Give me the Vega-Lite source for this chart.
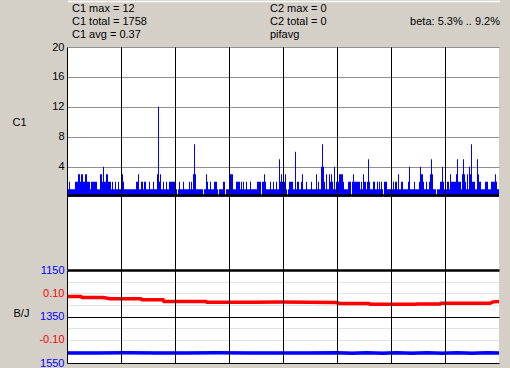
{
  "$schema": "https://vega.github.io/schema/vega-lite/v6.json",
  "background": "#d4d0c8",
  "padding": {"left": 12, "top": 0, "right": 10, "bottom": 1},
  "bounds": "flush",
  "spacing": 0,
  "config": {
    "view": {"stroke": null, "fill": "white"},
    "font": "Liberation Sans",
    "axis": {"labelFont": "Liberation Sans", "labelFontSize": 11, "labelColor": "black", "titleFont": "Liberation Sans", "titleFontSize": 11, "titleFontWeight": "normal", "titleColor": "black", "ticks": false, "domain": false, "labelPadding": 3, "gridOpacity": 1}
  },
  "datasets": {
    "header": [
      {"t": "C1 max = 12", "col": "left", "line": 1, "i": 5},
      {"t": "C1 total = 1758", "col": "left", "line": 2, "i": 5},
      {"t": "C1 avg = 0.37", "col": "left", "line": 3, "i": 5},
      {"t": "C2 max = 0", "col": "mid", "line": 1, "i": 203},
      {"t": "C2 total = 0", "col": "mid", "line": 2, "i": 203},
      {"t": "pifavg", "col": "mid", "line": 3, "i": 203},
      {"t": "beta: 5.3% .. 9.2%", "col": "right", "line": 2, "i": 433}
    ],
    "c1": [
      {"i":0,"c":1},{"i":2,"c":2},{"i":3,"c":1},{"i":8,"c":2},{"i":11,"c":3},{"i":13,"c":2},{"i":14,"c":3},{"i":16,"c":2},{"i":18,"c":3},{"i":20,"c":2},
      {"i":23,"c":1},{"i":24,"c":2},{"i":30,"c":1},{"i":33,"c":3},{"i":35,"c":2},{"i":36,"c":4},{"i":37,"c":2},{"i":39,"c":3},{"i":41,"c":2},{"i":44,"c":1},
      {"i":45,"c":2},{"i":46,"c":1},{"i":48,"c":2},{"i":49,"c":1},{"i":51,"c":2},{"i":52,"c":1},{"i":55,"c":3},{"i":56,"c":2},{"i":57,"c":1},{"i":69,"c":2},
      {"i":71,"c":3},{"i":72,"c":1},{"i":74,"c":2},{"i":76,"c":1},{"i":77,"c":2},{"i":79,"c":1},{"i":82,"c":2},{"i":83,"c":1},{"i":86,"c":2},{"i":87,"c":1},
      {"i":90,"c":3},{"i":91,"c":12},{"i":92,"c":2},{"i":93,"c":3},{"i":94,"c":1},{"i":96,"c":2},{"i":97,"c":1},{"i":99,"c":2},{"i":100,"c":1},{"i":102,"c":2},
      {"i":109,"c":1},{"i":110,"c":0},{"i":111,"c":1},{"i":112,"c":2},{"i":113,"c":1},{"i":116,"c":2},{"i":117,"c":1},{"i":122,"c":2},{"i":123,"c":1},{"i":124,"c":2},
      {"i":125,"c":1},{"i":126,"c":3},{"i":127,"c":7},{"i":128,"c":3},{"i":129,"c":1},{"i":136,"c":0},{"i":137,"c":1},{"i":139,"c":3},{"i":140,"c":2},{"i":141,"c":1},
      {"i":143,"c":2},{"i":144,"c":1},{"i":147,"c":2},{"i":150,"c":1},{"i":151,"c":0},{"i":152,"c":1},{"i":156,"c":2},{"i":158,"c":0},{"i":159,"c":1},{"i":163,"c":3},
      {"i":166,"c":1},{"i":169,"c":2},{"i":173,"c":1},{"i":174,"c":2},{"i":175,"c":1},{"i":176,"c":2},{"i":177,"c":1},{"i":179,"c":2},{"i":180,"c":1},{"i":183,"c":2},
      {"i":184,"c":1},{"i":190,"c":2},{"i":194,"c":0},{"i":195,"c":2},{"i":197,"c":3},{"i":198,"c":2},{"i":199,"c":1},{"i":203,"c":2},{"i":204,"c":1},{"i":206,"c":2},
      {"i":207,"c":1},{"i":209,"c":2},{"i":210,"c":1},{"i":212,"c":5},{"i":213,"c":2},{"i":214,"c":3},{"i":215,"c":2},{"i":218,"c":3},{"i":219,"c":1},{"i":220,"c":0},
      {"i":221,"c":1},{"i":222,"c":2},{"i":226,"c":1},{"i":228,"c":6},{"i":229,"c":1},{"i":230,"c":2},{"i":232,"c":1},{"i":234,"c":2},{"i":235,"c":3},{"i":236,"c":1},
      {"i":239,"c":2},{"i":240,"c":1},{"i":244,"c":2},{"i":245,"c":1},{"i":249,"c":3},{"i":250,"c":1},{"i":251,"c":2},{"i":252,"c":1},{"i":254,"c":4},{"i":255,"c":7},
      {"i":256,"c":4},{"i":257,"c":2},{"i":258,"c":1},{"i":259,"c":3},{"i":260,"c":1},{"i":262,"c":3},{"i":263,"c":2},{"i":264,"c":3},{"i":265,"c":2},{"i":266,"c":1},
      {"i":267,"c":4},{"i":268,"c":1},{"i":269,"c":2},{"i":272,"c":3},{"i":276,"c":2},{"i":277,"c":1},{"i":281,"c":2},{"i":284,"c":0},{"i":285,"c":2},{"i":286,"c":3},
      {"i":287,"c":2},{"i":293,"c":1},{"i":294,"c":2},{"i":295,"c":1},{"i":296,"c":3},{"i":297,"c":2},{"i":299,"c":1},{"i":300,"c":2},{"i":301,"c":5},{"i":302,"c":2},
      {"i":303,"c":1},{"i":306,"c":2},{"i":308,"c":1},{"i":310,"c":2},{"i":311,"c":1},{"i":312,"c":2},{"i":313,"c":1},{"i":314,"c":2},{"i":315,"c":1},{"i":316,"c":0},
      {"i":317,"c":2},{"i":320,"c":1},{"i":326,"c":2},{"i":327,"c":1},{"i":328,"c":2},{"i":330,"c":1},{"i":331,"c":3},{"i":332,"c":1},{"i":334,"c":2},{"i":336,"c":1},
      {"i":341,"c":2},{"i":342,"c":4},{"i":343,"c":1},{"i":347,"c":2},{"i":348,"c":1},{"i":352,"c":2},{"i":353,"c":4},{"i":354,"c":3},{"i":356,"c":2},{"i":357,"c":1},
      {"i":359,"c":2},{"i":360,"c":1},{"i":362,"c":2},{"i":363,"c":3},{"i":364,"c":5},{"i":365,"c":3},{"i":366,"c":1},{"i":369,"c":0},{"i":370,"c":1},{"i":373,"c":2},
      {"i":375,"c":4},{"i":376,"c":2},{"i":377,"c":1},{"i":380,"c":2},{"i":382,"c":1},{"i":383,"c":3},{"i":384,"c":2},{"i":389,"c":3},{"i":390,"c":5},{"i":391,"c":2},
      {"i":394,"c":1},{"i":395,"c":3},{"i":396,"c":5},{"i":397,"c":3},{"i":398,"c":2},{"i":399,"c":1},{"i":400,"c":3},{"i":401,"c":1},{"i":402,"c":4},{"i":403,"c":3},
      {"i":404,"c":7},{"i":405,"c":2},{"i":408,"c":1},{"i":410,"c":5},{"i":411,"c":3},{"i":412,"c":2},{"i":414,"c":1},{"i":418,"c":2},{"i":421,"c":1},{"i":424,"c":2},
      {"i":428,"c":3},{"i":429,"c":2},{"i":430,"c":1},{"i":432,"c":1}
    ],
    "blue": [
      {"i":0,"v":1507},{"i":30,"v":1507},{"i":60,"v":1506},{"i":90,"v":1507},{"i":120,"v":1507},{"i":150,"v":1506},{"i":180,"v":1507},{"i":210,"v":1507},{"i":240,"v":1507},{"i":270,"v":1506},
      {"i":285,"v":1508},{"i":300,"v":1506},{"i":315,"v":1508},{"i":330,"v":1506},{"i":345,"v":1508},{"i":360,"v":1506},{"i":375,"v":1508},{"i":390,"v":1506},{"i":405,"v":1508},{"i":420,"v":1506},{"i":432,"v":1507}
    ],
    "red": [
      {"i":0,"r":0.086},{"i":14,"r":0.086},{"i":15,"r":0.082},{"i":36,"r":0.082},{"i":43,"r":0.076},{"i":74,"r":0.076},{"i":75,"r":0.072},{"i":96,"r":0.072},{"i":97,"r":0.065},{"i":139,"r":0.065},
      {"i":140,"r":0.061},{"i":186,"r":0.061},{"i":213,"r":0.062},{"i":269,"r":0.060},{"i":273,"r":0.056},{"i":302,"r":0.056},{"i":303,"r":0.053},{"i":349,"r":0.053},{"i":350,"r":0.054},{"i":373,"r":0.054},
      {"i":374,"r":0.057},{"i":423,"r":0.057},{"i":426,"r":0.063},{"i":432,"r":0.065}
    ]
  },
  "vconcat": [
    {
      "width": 432,
      "height": 46,
      "view": {"fill": null, "stroke": null},
      "layer": [
        {
          "data": {"name": "header"},
          "transform": [{"filter": "datum.col !== 'right'"}],
          "mark": {"type": "text", "align": "left", "baseline": "middle", "fontSize": 11, "font": "Liberation Sans", "color": "black"},
          "encoding": {
            "x": {"field": "i", "type": "quantitative", "scale": {"domain": [0, 432], "nice": false, "zero": false}, "axis": null},
            "y": {"field": "line", "type": "quantitative", "scale": {"domain": [3.923, 0.3846], "nice": false, "zero": false}, "axis": null},
            "text": {"field": "t"}
          }
        },
        {
          "data": {"name": "header"},
          "transform": [{"filter": "datum.col === 'right'"}],
          "mark": {"type": "text", "align": "right", "baseline": "middle", "fontSize": 11, "font": "Liberation Sans", "color": "black"},
          "encoding": {
            "x": {"field": "i", "type": "quantitative"},
            "y": {"field": "line", "type": "quantitative"},
            "text": {"field": "t"}
          }
        },
        {
          "data": {"values": [{}]},
          "mark": {"type": "rule", "color": "white", "strokeWidth": 1.5},
          "encoding": {
            "x": {"datum": 1, "type": "quantitative"},
            "x2": {"datum": 433},
            "y": {"datum": 0.42, "type": "quantitative"}
          }
        }
      ]
    },
    {
      "width": 432,
      "height": 223,
      "layer": [
        {
          "data": {"name": "c1"},
          "mark": {"type": "area", "interpolate": "step-after", "color": "#0000ff"},
          "encoding": {
            "x": {"field": "i", "type": "quantitative", "scale": {"domain": [0, 432], "nice": false, "zero": false},
                  "axis": {"values": [0, 54, 108, 162, 216, 270, 324, 378], "labels": false, "grid": true, "gridColor": "black", "gridWidth": 1, "zindex": 1, "title": null}},
            "y": {"field": "c", "type": "quantitative", "scale": {"domain": [-9.8, 20], "nice": false, "zero": false},
                  "axis": {"values": [4, 8, 12, 16, 20], "gridColor": "#909090", "title": "C1", "titleAngle": 0, "titleX": -55, "titleY": 75, "titleAlign": "left", "titleBaseline": "middle"}},
            "y2": {"datum": 0}
          }
        },
        {
          "data": {"values": [{}]},
          "mark": {"type": "rule", "color": "black", "strokeWidth": 2.5},
          "encoding": {"y": {"datum": 0.17, "type": "quantitative"}}
        }
      ]
    },
    {
      "width": 432,
      "height": 93,
      "layer": [
        {
          "data": {"name": "blue"},
          "mark": {"type": "line", "color": "#0000ff", "strokeWidth": 3.5},
          "encoding": {
            "x": {"field": "i", "type": "quantitative", "scale": {"domain": [0, 432], "nice": false, "zero": false},
                  "axis": {"values": [0, 54, 108, 162, 216, 270, 324, 378], "labels": false, "grid": true, "gridColor": "black", "gridWidth": 1, "zindex": 1, "title": null}},
            "y": {"field": "v", "type": "quantitative", "scale": {"domain": [1150, 1550], "reverse": true, "nice": false, "zero": false},
                  "axis": {"orient": "left", "values": [1150, 1200, 1250, 1300, 1350, 1400, 1450, 1500, 1550],
                           "labelExpr": "datum.value % 200 === 150 ? format(datum.value, 'd') : ''", "labelColor": "#0000ff",
                           "gridColor": {"condition": {"test": "datum.value % 200 === 150", "value": "black"}, "value": "#e2e2e2"},
                           "gridWidth": {"condition": {"test": "datum.value === 1150", "value": 2.5}, "value": 1},
                           "title": "B/J", "titleAngle": 0, "titleX": -54, "titleY": 43, "titleAlign": "left", "titleBaseline": "middle"}}
          }
        },
        {
          "data": {"name": "red"},
          "mark": {"type": "line", "color": "#ff0000", "strokeWidth": 3.5},
          "encoding": {
            "x": {"field": "i", "type": "quantitative"},
            "y": {"field": "r", "type": "quantitative", "scale": {"domain": [-0.2, 0.2], "nice": false, "zero": false},
                  "axis": {"orient": "left", "values": [-0.1, 0.1], "labelExpr": "(datum.value < 0 ? '-' : '') + format(abs(datum.value), '.2f')",
                           "labelColor": "#ff0000", "gridColor": "#a8a8a8", "title": null}}
          }
        }
      ],
      "resolve": {"scale": {"y": "independent"}, "axis": {"y": "independent"}}
    }
  ]
}
